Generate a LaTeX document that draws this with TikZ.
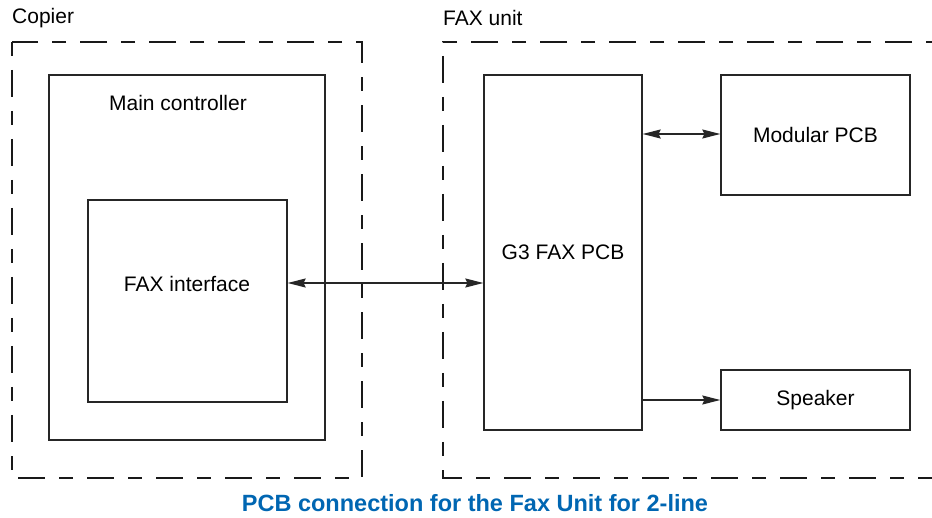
\documentclass[tikz,border=0pt]{standalone}
\usepackage{fontspec}
\setmainfont{Liberation Sans}
\usetikzlibrary{arrows.meta}
\definecolor{capblue}{RGB}{0,102,178}
\begin{document}
\begin{tikzpicture}[x=1pt,y=-1pt,
  blk/.style={draw=black!85,line width=1.3pt,inner sep=0pt,font=\fontsize{21}{24}\selectfont},
  grp/.style={draw=black!90,line width=2.6pt,dash pattern=on 14pt off 14pt on 27pt off 14pt},
  lbl/.style={font=\fontsize{21}{24}\selectfont,inner sep=0pt},
  conn/.style={line width=1.3pt,draw=black!85},
  tip/.style={-{Stealth[length=18pt,width=9pt,inset=2pt]}},
  tips/.style={{Stealth[length=18pt,width=9pt,inset=2pt]}-{Stealth[length=18pt,width=9pt,inset=2pt]}}]
\useasboundingbox (0,0) rectangle (932,518);
% group containers
\draw[grp] (12,42) rectangle (362,478);
\coordinate (fa) at (940,42);
\coordinate (fb) at (443,42);
\coordinate (fc) at (443,478);
\coordinate (fd) at (940,478);
\draw[grp] (fa) -- (fb) -- (fc) -- (fd);
\node[lbl,anchor=west] (copier) at (12,18) {Copier};
\node[lbl,anchor=west] (faxunit) at (443,18) {FAX unit};
% blocks
\node[blk,minimum width=276pt,minimum height=365pt] (mc) at (187,257.5) {};
\node[lbl] (mclbl) at (178,103) {Main controller};
\node[blk,minimum width=199pt,minimum height=202pt] (fi) at (187.5,301) {};
\node[lbl] (filbl) at (187,284) {FAX interface};
\node[blk,minimum width=158pt,minimum height=355pt] (g3) at (563,252.5) {G3 FAX PCB};
\node[blk,minimum width=189pt,minimum height=120pt] (mod) at (815.5,135) {Modular PCB};
\node[blk,minimum width=189pt,minimum height=60pt] (spk) at (815.5,400) {Speaker};
% connectors
\draw[conn,tips] (fi.east |- 0,283) -- (g3.west |- 0,283);
\draw[conn,tips] (g3.east |- 0,134) -- (mod.west |- 0,134);
\draw[conn,tip] (g3.east |- 0,400) -- (spk.west |- 0,400);
% caption
\node[font=\bfseries\fontsize{23.5}{26}\selectfont,text=capblue,inner sep=0pt] (cap) at (475,503) {PCB connection for the Fax Unit for 2-line};
\end{tikzpicture}
\end{document}
